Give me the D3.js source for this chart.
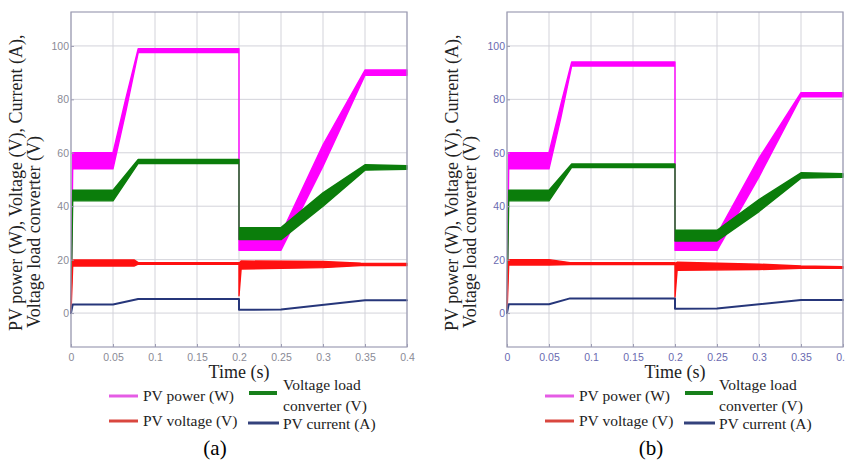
<!DOCTYPE html>
<html>
<head>
<meta charset="utf-8">
<style>
  body { margin: 0; background: #fff; }
  text { font-family: "Liberation Serif", "Times New Roman", serif; fill: #222; }
  .tick text { font-family: "Liberation Sans", Arial, sans-serif; }
</style>
</head>
<body>
<svg id="chart" width="845" height="464"></svg>
<script src="https://cdnjs.cloudflare.com/ajax/libs/d3/7.8.5/d3.min.js"></script>
<script>
var timeTicks = [0, 0.05, 0.1, 0.15, 0.2, 0.25, 0.3, 0.35, 0.4];
var timeLabels = ['0', '0.05', '0.1', '0.15', '0.2', '0.25', '0.3', '0.35', '0.4'];
var valueTicks = [0, 20, 40, 60, 80, 100];

// each row: [time, lower edge of ripple, upper edge of ripple]
var powerA = [[0, 0, 0], [0.002, 54, 60], [0.05, 54, 60], [0.065, 75, 80], [0.08, 97.5, 99],
  [0.2, 97.5, 99], [0.2, 23.5, 29], [0.25, 23.5, 29.5], [0.3, 55, 63], [0.35, 89, 91], [0.4, 89, 91]];
var loadA = [[0, 0, 0], [0.002, 42, 46], [0.05, 42, 46], [0.08, 56, 57.5],
  [0.2, 56, 57.5], [0.2, 27.5, 32], [0.25, 27.5, 32], [0.3, 40, 45], [0.35, 53.5, 55.5], [0.4, 53.8, 55.2]];
var voltA = [[0, 0, 0], [0.002, 17.6, 19.9], [0.075, 17.6, 19.9], [0.08, 18.3, 18.9],
  [0.2, 18.3, 18.9], [0.2, 6.5, 18.6], [0.2025, 16.5, 19.5], [0.3, 17, 19.3], [0.345, 17.8, 18.7], [0.4, 17.8, 18.6]];
var currA = [[0, 0, 0], [0.002, 3.2, 3.2], [0.05, 3.2, 3.2], [0.08, 5.3, 5.3],
  [0.2, 5.3, 5.3], [0.2, 1.2, 1.2], [0.25, 1.3, 1.3], [0.35, 4.8, 4.8], [0.4, 4.8, 4.8]];

var powerB = [[0, 0, 0], [0.002, 54, 60], [0.05, 54, 60], [0.064, 73, 78], [0.077, 92.5, 94],
  [0.2, 92.5, 94], [0.2, 23.5, 29], [0.25, 23.5, 29.5], [0.3, 51, 58], [0.35, 81, 82.5], [0.4, 81, 82.5]];
var loadB = [[0, 0, 0], [0.002, 42, 46], [0.05, 42, 46], [0.077, 54.5, 55.8],
  [0.2, 54.5, 55.8], [0.2, 27, 31], [0.25, 27, 31], [0.3, 38, 42.5], [0.35, 50.5, 52.5], [0.4, 50.8, 52.2]];
var voltB = [[0, 0, 0], [0.002, 18, 20], [0.05, 18, 20], [0.075, 18.2, 18.9],
  [0.2, 18.2, 18.9], [0.2, 6, 18.5], [0.2025, 16, 19], [0.3, 16.3, 18.3], [0.35, 16.8, 17.6], [0.4, 16.8, 17.4]];
var currB = [[0, 0, 0], [0.002, 3.3, 3.3], [0.05, 3.3, 3.3], [0.075, 5.5, 5.5],
  [0.2, 5.5, 5.5], [0.2, 1.6, 1.6], [0.25, 1.7, 1.7], [0.35, 4.9, 4.9], [0.4, 4.9, 4.9]];

var seriesColors = ['#ff00ff', '#0b7d0b', '#ff1010', '#26367a'];
var legendColors = ['#e55ce5', '#17801b', '#d9473f', '#34427c'];
var panelLabels = ['(a)', '(b)'];

var svg = d3.select('#chart');
var panels = [
  { x0: 71, data: [powerA, loadA, voltA, currA], tickColor: '#8a8a96' },
  { x0: 507, data: [powerB, loadB, voltB, currB], tickColor: '#6a6ab0' }
];
var plotW = 336, plotTop = 12, plotBottom = 347;

panels.forEach(function (p, i) {
  var x = d3.scaleLinear().domain([0, 0.4]).range([p.x0, p.x0 + plotW]);
  var y = d3.scaleLinear().domain([-12.7, 112.7]).range([plotBottom, plotTop]);
  var g = svg.append('g');

  // grid
  g.selectAll('.vg').data(timeTicks).enter().append('line')
    .attr('x1', function (d) { return x(d); }).attr('x2', function (d) { return x(d); })
    .attr('y1', plotTop).attr('y2', plotBottom)
    .style('stroke', '#d3d3da').style('stroke-width', 1);
  g.selectAll('.hg').data(valueTicks).enter().append('line')
    .attr('x1', p.x0).attr('x2', p.x0 + plotW)
    .attr('y1', function (d) { return y(d); }).attr('y2', function (d) { return y(d); })
    .style('stroke', '#d3d3da').style('stroke-width', 1);

  // series as ripple bands
  var area = d3.area()
    .x(function (d) { return x(d[0]); })
    .y0(function (d) { return y(d[1]); })
    .y1(function (d) { return y(d[2]); });
  p.data.forEach(function (s, k) {
    g.append('path').datum(s).attr('d', area)
      .style('fill', seriesColors[k])
      .style('stroke', seriesColors[k])
      .style('stroke-width', k === 3 ? 2 : 1.4)
      .style('stroke-linejoin', 'round');
  });

  // frame
  g.append('rect').attr('x', p.x0).attr('y', plotTop).attr('width', plotW).attr('height', plotBottom - plotTop)
    .style('fill', 'none').style('stroke', '#9d9db4').style('stroke-width', 1.2);

  var ya = d3.axisLeft(y).tickValues(valueTicks).tickSizeInner(-3).tickSizeOuter(0).tickPadding(2);
  var ga = g.append('g').attr('transform', 'translate(' + p.x0 + ',0)').call(ya);
  ga.select('.domain').remove();
  ga.selectAll('line').style('stroke', '#9d9db4');
  ga.selectAll('text').style('fill', p.tickColor).style('font-size', '10.5px');

  var xa = d3.axisBottom(x).tickValues(timeTicks)
    .tickFormat(function (d, j) { return timeLabels[j]; })
    .tickSizeInner(-3).tickSizeOuter(0).tickPadding(7);
  var gx = g.append('g').attr('transform', 'translate(0,' + plotBottom + ')').call(xa);
  gx.select('.domain').remove();
  gx.selectAll('line').style('stroke', '#9d9db4');
  gx.selectAll('text').style('fill', p.tickColor).style('font-size', '10.5px');

  // axis titles
  g.append('text').attr('x', p.x0 + plotW / 2).attr('y', 378).attr('text-anchor', 'middle')
    .style('font-size', '18px').text('Time (s)');
  g.append('text').attr('transform', 'translate(' + (p.x0 - 49) + ',331) rotate(-90)')
    .style('font-size', '18px').text('PV power (W), Voltage (V), Current (A),');
  g.append('text').attr('transform', 'translate(' + (p.x0 - 31) + ',328) rotate(-90)')
    .style('font-size', '18px').text('Voltage load converter (V)');

  // legend
  var lx = p.x0;
  var legend = [
    { k: 0, x1: 38, x2: 67, y: 396, tx: 72, lines: ['PV power (W)'], ty: [401] },
    { k: 1, x1: 178, x2: 206, y: 393, tx: 212, lines: ['Voltage load', 'converter (V)'], ty: [390, 411] },
    { k: 2, x1: 38, x2: 67, y: 421, tx: 72, lines: ['PV voltage (V)'], ty: [426] },
    { k: 3, x1: 177, x2: 208, y: 423, tx: 212, lines: ['PV current (A)'], ty: [429] }
  ];
  legend.forEach(function (l) {
    g.append('line').attr('x1', lx + l.x1).attr('x2', lx + l.x2).attr('y1', l.y).attr('y2', l.y)
      .style('stroke', legendColors[l.k]).style('stroke-width', l.k === 1 ? 4 : 3);
    l.lines.forEach(function (t, j) {
      g.append('text').attr('x', lx + l.tx).attr('y', l.ty[j]).style('font-size', '15.5px').text(t);
    });
  });

  g.append('text').attr('x', p.x0 + 144).attr('y', 455).attr('text-anchor', 'middle')
    .style('font-size', '21px').style('fill', '#000').text(panelLabels[i]);
});
</script>
</body>
</html>
